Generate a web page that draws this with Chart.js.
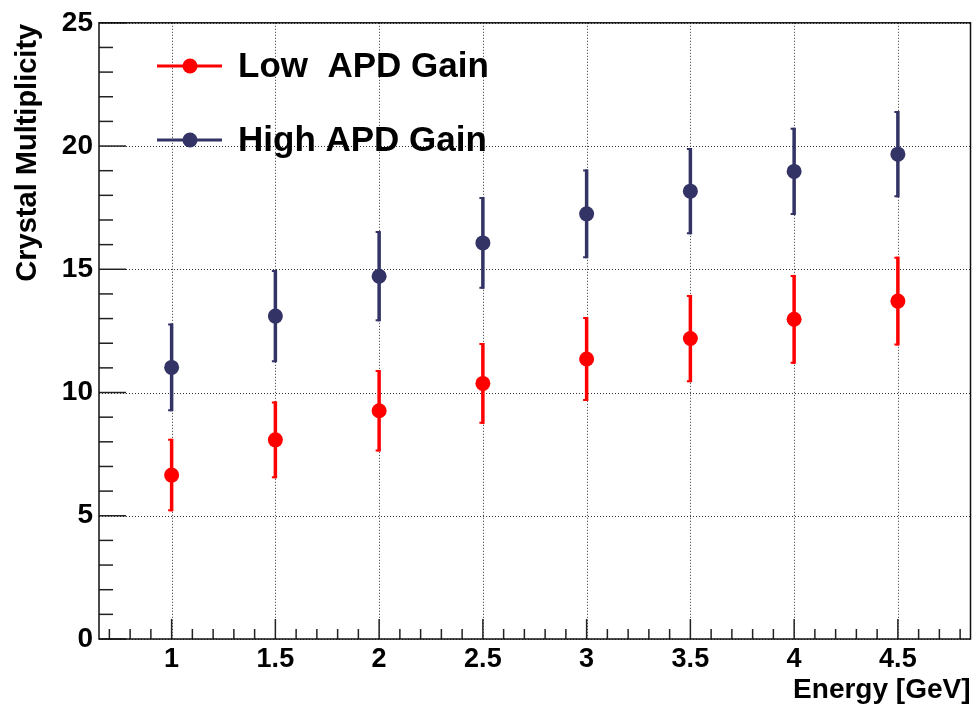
<!DOCTYPE html>
<html lang="en">
<head>
<meta charset="UTF-8" />
<title>Crystal Multiplicity vs Energy</title>
<script src="https://cdn.jsdelivr.net/npm/chart.js"></script>
<style>
  body { margin: 0; background: #fff; }
  canvas { display: block; }
</style>
</head>
<body>
<canvas id="multChart" width="978" height="704"></canvas>
<script>
// beam energies [GeV]
const energies = [1, 1.5, 2, 2.5, 3, 3.5, 4, 4.5];

// mean crystal multiplicity and its spread, low APD gain
const lowGain = [6.65, 8.08, 9.26, 10.37, 11.36, 12.19, 12.97, 13.71];
const lowErr = [1.47, 1.56, 1.65, 1.64, 1.70, 1.77, 1.80, 1.80];

// same for high APD gain
const highGain = [11.02, 13.10, 14.72, 16.07, 17.25, 18.17, 18.97, 19.67];
const highErr = [1.78, 1.87, 1.83, 1.86, 1.80, 1.75, 1.77, 1.75];

const seriesNames = ["Low  APD Gain", "High APD Gain"];

const xTicks = [1, 1.5, 2, 2.5, 3, 3.5, 4, 4.5];
const xTickLabels = ["1", "1.5", "2", "2.5", "3", "3.5", "4", "4.5"];
const yTicks = [0, 5, 10, 15, 20, 25];
const yTickLabels = ["0", "5", "10", "15", "20", "25"];

const FONT = "'Liberation Sans', Arial, sans-serif";

function toPoints(xs, ys) {
  return xs.map((x, i) => ({ x: x, y: ys[i] }));
}

// ROOT-like frame, dotted grid, inside ticks, error bars, legend and titles
const rootStyle = {
  id: "rootStyle",
  beforeDatasetsDraw(chart) {
    const { ctx, chartArea: a, scales } = chart;
    const xs = scales.x, ys = scales.y;
    ctx.save();

    // dotted grid
    ctx.strokeStyle = "#333";
    ctx.lineWidth = 1;
    ctx.setLineDash([1, 2]);
    xTicks.forEach((v) => {
      const px = Math.round(xs.getPixelForValue(v)) + 0.5;
      ctx.beginPath();
      ctx.moveTo(px, a.top);
      ctx.lineTo(px, a.bottom);
      ctx.stroke();
    });
    yTicks.forEach((v) => {
      const py = Math.round(ys.getPixelForValue(v)) + 0.5;
      ctx.beginPath();
      ctx.moveTo(a.left, py);
      ctx.lineTo(a.right, py);
      ctx.stroke();
    });
    ctx.setLineDash([]);

    // tick marks
    ctx.strokeStyle = "#222";
    ctx.lineWidth = 1.5;
    for (let k = 0; k <= 25; k++) {
      const py = ys.getPixelForValue(k);
      const len = k % 5 === 0 ? 27 : 14;
      ctx.beginPath();
      ctx.moveTo(a.left, py);
      ctx.lineTo(a.left + len, py);
      ctx.stroke();
    }
    for (let k = 7; k <= 48; k++) {
      const px = xs.getPixelForValue(k / 10);
      const len = k % 5 === 0 ? 20 : 10;
      ctx.beginPath();
      ctx.moveTo(px, a.bottom);
      ctx.lineTo(px, a.bottom - len);
      ctx.stroke();
    }

    // frame
    ctx.strokeStyle = "#111";
    ctx.lineWidth = 1.5;
    ctx.strokeRect(a.left, a.top, a.right - a.left, a.bottom - a.top);

    // vertical error bars
    chart.data.datasets.forEach((ds, di) => {
      const meta = chart.getDatasetMeta(di);
      ctx.strokeStyle = ds.backgroundColor;
      meta.data.forEach((pt, j) => {
        const v = ds.data[j].y;
        const e = ds.errors[j];
        const top = ys.getPixelForValue(v + e);
        const bot = ys.getPixelForValue(v - e);
        ctx.lineWidth = 3.5;
        ctx.beginPath();
        ctx.moveTo(pt.x, top);
        ctx.lineTo(pt.x, bot);
        ctx.stroke();
        ctx.lineWidth = 2;
        ctx.beginPath();
        ctx.moveTo(pt.x - 3.5, top + 1);
        ctx.lineTo(pt.x + 1, top + 1);
        ctx.moveTo(pt.x - 3.5, bot - 1);
        ctx.lineTo(pt.x + 1, bot - 1);
        ctx.stroke();
      });
    });
    ctx.restore();
  },
  afterDraw(chart) {
    const { ctx, chartArea: a } = chart;
    ctx.save();

    // legend
    const rows = [66, 140];
    chart.data.datasets.forEach((ds, i) => {
      const y = rows[i];
      ctx.strokeStyle = ds.backgroundColor;
      ctx.lineWidth = 3;
      ctx.beginPath();
      ctx.moveTo(157, y);
      ctx.lineTo(222, y);
      ctx.stroke();
      ctx.fillStyle = ds.backgroundColor;
      ctx.beginPath();
      ctx.arc(190, y, 7.5, 0, Math.PI * 2);
      ctx.fill();
      ctx.fillStyle = "#000";
      ctx.font = "bold 35px " + FONT;
      ctx.textAlign = "left";
      ctx.textBaseline = "middle";
      ctx.fillText(ds.label, 238, y + 1);
    });

    // axis titles
    ctx.fillStyle = "#000";
    ctx.font = "bold 28px " + FONT;
    ctx.textAlign = "right";
    ctx.textBaseline = "alphabetic";
    ctx.fillText("Energy [GeV]", a.right, 698);

    ctx.translate(36, a.top + 1);
    ctx.rotate(-Math.PI / 2);
    ctx.font = "bold 29px " + FONT;
    ctx.textAlign = "right";
    ctx.fillText("Crystal Multiplicity", 0, 0);
    ctx.restore();
  },
};

new Chart(document.getElementById("multChart"), {
  type: "scatter",
  data: {
    datasets: [
      {
        label: seriesNames[0],
        data: toPoints(energies, lowGain),
        errors: lowErr,
        backgroundColor: "#ff0000",
        borderColor: "#ff0000",
        pointRadius: 7.5,
        pointBorderWidth: 0,
      },
      {
        label: seriesNames[1],
        data: toPoints(energies, highGain),
        errors: highErr,
        backgroundColor: "#333366",
        borderColor: "#333366",
        pointRadius: 7.5,
        pointBorderWidth: 0,
      },
    ],
  },
  options: {
    responsive: false,
    animation: false,
    layout: { padding: { left: 0, right: 5, top: 21, bottom: 0 } },
    plugins: {
      legend: { display: false },
      tooltip: { enabled: false },
    },
    scales: {
      x: {
        type: "linear",
        min: 0.65,
        max: 4.85,
        grid: { display: false, drawTicks: false },
        border: { display: false },
        afterBuildTicks: (s) => {
          s.ticks = xTicks.map((v) => ({ value: v }));
        },
        afterFit: (s) => {
          s.height = 65;
        },
        ticks: {
          padding: 4,
          color: "#000",
          font: { family: FONT, size: 27, weight: "bold" },
          maxRotation: 0,
          autoSkip: false,
          callback: (v, i) => xTickLabels[i],
        },
      },
      y: {
        min: 0,
        max: 25,
        grid: { display: false, drawTicks: false },
        border: { display: false },
        afterBuildTicks: (s) => {
          s.ticks = yTicks.map((v) => ({ value: v }));
        },
        afterFit: (s) => {
          s.width = 99;
        },
        ticks: {
          padding: 6,
          color: "#000",
          font: { family: FONT, size: 28, weight: "bold" },
          autoSkip: false,
          callback: (v, i) => yTickLabels[i],
        },
      },
    },
  },
  plugins: [rootStyle],
});
</script>
</body>
</html>
